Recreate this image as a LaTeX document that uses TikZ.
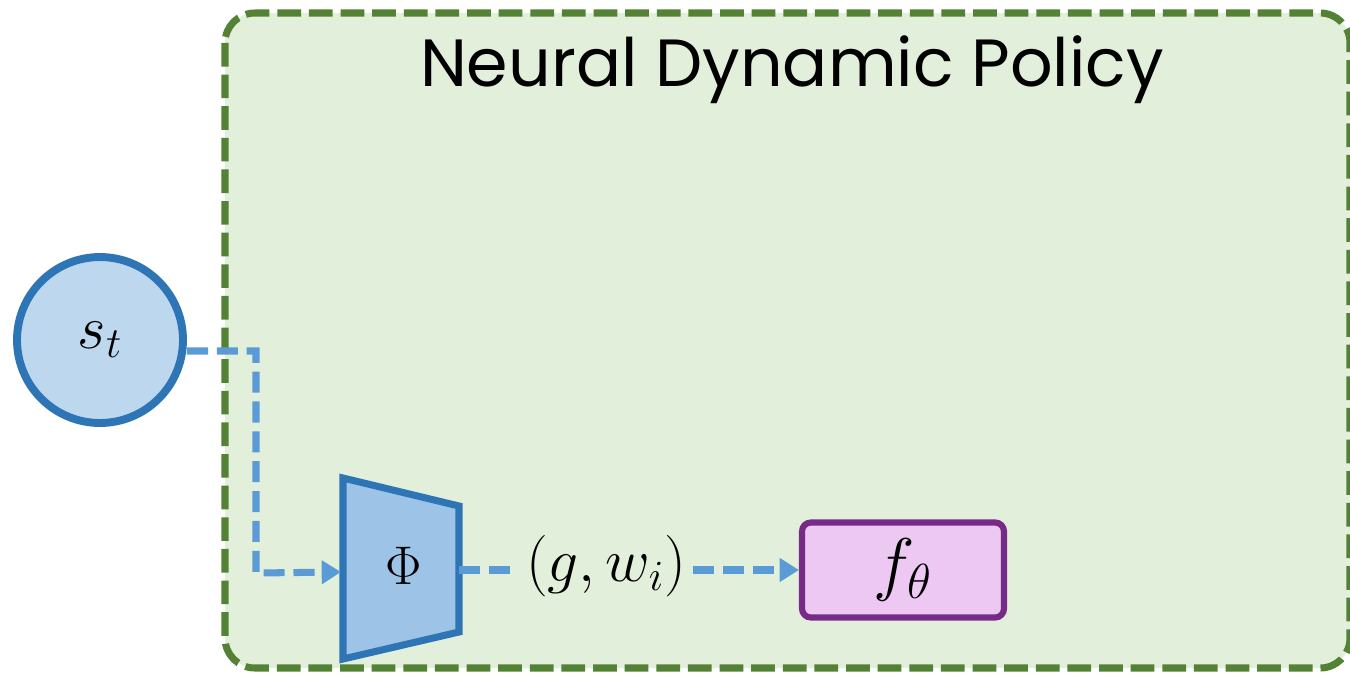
\RequirePackage{fix-cm}
\documentclass[tikz,border=0pt]{standalone}
\usepackage{fontspec}
\newfontfamily\titlefont{Poppins}
\usetikzlibrary{arrows.meta,calc}
\definecolor{bgG}{HTML}{E2EFDA}
\definecolor{bdG}{HTML}{548235}
\definecolor{cirF}{HTML}{BDD7EE}
\definecolor{stB}{HTML}{2E75B6}
\definecolor{trF}{HTML}{9DC3E6}
\definecolor{lnB}{HTML}{5B9BD5}
\definecolor{fF}{HTML}{ECC8F3}
\definecolor{fD}{HTML}{782A88}
\tikzset{
  conn/.style={draw=lnB,line width=4pt,dash pattern=on 12pt off 5pt},
  connarrow/.style={conn,-{Triangle[length=11pt,width=13pt]}},
  mathlbl/.style={inner sep=4pt,font=\fontsize{35}{37}\selectfont}
}
\begin{document}
\begin{tikzpicture}[x=0.02cm,y=-0.02cm]
\useasboundingbox (0,0) rectangle (1350,674);
% container
\draw[fill=bgG,draw=bdG,line width=4pt,dash pattern=on 13.5pt off 4.5pt,rounded corners=17pt]
  (225,13) rectangle (1350,668);
\node[font=\titlefont\fontsize{38}{40}\selectfont] (title) at (792,70) {Neural Dynamic Policy};
% state
\node[circle,draw=stB,fill=cirF,line width=4.5pt,minimum size=3.32cm,inner sep=0pt,
      font=\fontsize{35}{37}\selectfont] (st) at (100,340) {$s_t$};
% trapezoid
\draw[draw=stB,fill=trF,line width=4pt,line join=miter]
  (343,478) -- (459,506) -- (459,632) -- (343,659) -- cycle;
\coordinate (phiL) at (341,572);
\coordinate (phiR) at (459,570);
\node[font=\fontsize{31}{33}\selectfont] (phi) at (404,566) {$\Phi$};
\coordinate (bend1) at (256,351);
\coordinate (bend2) at (256,573);
\draw[connarrow] (st.east |- bend1) -- (bend1) -- (bend2) -- (phiL);
% params label
\node[mathlbl] (gw) at (606,566) {$(g,w_i)$};
\draw[conn] (phiR) -- (gw.west |- phiR);
% f theta
\node[draw=fD,fill=fF,line width=3.5pt,rounded corners=5pt,minimum width=4.04cm,
      minimum height=1.9cm,font=\fontsize{40}{42}\selectfont] (f) at (903,570) {$f_\theta$};
\draw[connarrow] (gw.east |- f.west) -- (f.west);
\end{tikzpicture}
\end{document}
